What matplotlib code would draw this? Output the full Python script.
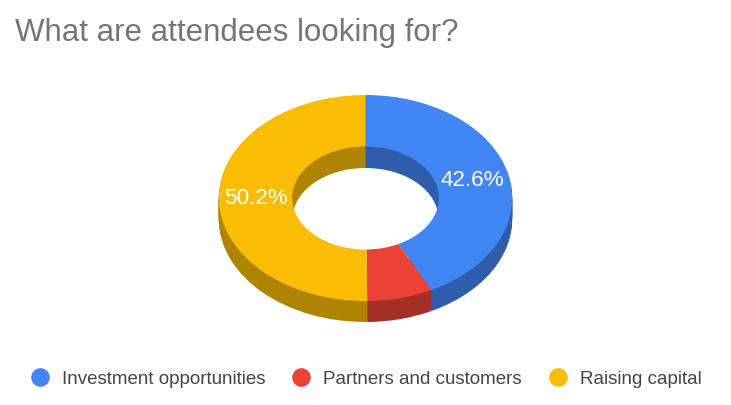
import matplotlib
matplotlib.use("Agg")
import matplotlib.pyplot as plt
from matplotlib.lines import Line2D
from matplotlib.patches import Ellipse

categories = ["Investment opportunities", "Partners and customers", "Raising capital"]
values = [42.6, 7.2, 50.2]
colors = ["#4285F4", "#EA4335", "#FBBC04"]
dark_colors = ["#2E5DAB", "#A42F25", "#B08403"]
title = "What are attendees looking for?"

W, H = 731, 405
CX, CY, RX, RY, DEPTH = 365.5, 198.0, 146.7, 103.0, 21

plt.rcParams["font.family"] = ["Liberation Sans", "DejaVu Sans"]
fig = plt.figure(figsize=(W / 100, H / 100), dpi=100, facecolor="white")
ax = fig.add_axes([0, 0, 1, 1])


def pct(p):
    return f"{p:.1f}%" if p > 10 else ""


# side walls: stacked dark pies going from the bottom up to the top face
for k in range(DEPTH, 0, -1):
    ax.pie(values, colors=dark_colors, startangle=90, counterclock=False,
           center=(0, -k / RY), radius=1, wedgeprops=dict(linewidth=0))

# see-through part of the hole, at the level of the bottom face
ax.add_patch(Ellipse((0, -DEPTH / RY), 2 * 0.4977, 2 * 0.495,
                     facecolor="white", edgecolor="none", zorder=2))

# top face
wedges, _, autotexts = ax.pie(values, colors=colors, startangle=90, counterclock=False,
                              center=(0, 0), radius=1, autopct=pct, pctdistance=0.75,
                              wedgeprops=dict(width=0.5, linewidth=0, zorder=3),
                              textprops=dict(color="white", fontsize=16.2, zorder=4))

ax.set_aspect("auto")
ax.set_xlim(-CX / RX, (W - CX) / RX)
ax.set_ylim((CY - H) / RY, CY / RY)
ax.axis("off")

fig.text(15 / W, 1 - 33 / H, title, fontsize=22.5, color="#757575", va="center", ha="left")

handles = [Line2D([], [], linestyle="none", marker="o", markersize=13.4,
                  markerfacecolor=c, markeredgecolor="none") for c in colors]
leg = fig.legend(handles, categories, loc="center left",
                 bbox_to_anchor=(30.6 / W, 1 - 379 / H), bbox_transform=fig.transFigure,
                 ncol=3, frameon=False, fontsize=13.5, labelcolor="#444444",
                 handlelength=1.0, handletextpad=0.67, columnspacing=1.42,
                 borderpad=0, borderaxespad=0)

fig.savefig("out.png", dpi=100, facecolor="white")
